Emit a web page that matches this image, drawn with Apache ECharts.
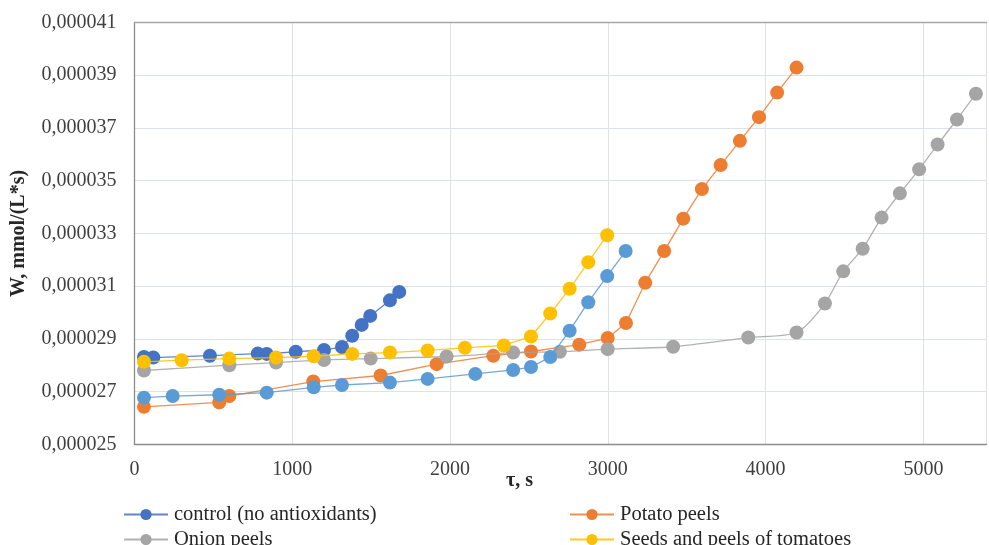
<!DOCTYPE html>
<html>
<head>
<meta charset="utf-8">
<script src="https://cdn.jsdelivr.net/npm/echarts@6/dist/echarts.min.js"></script>
<style>html,body{margin:0;padding:0;background:#fff;}#c{width:989px;height:545px;}</style>
</head>
<body>
<div id="c"></div>
<script>
// tau, s
var controlX = [60,119,478,781,838,1022,1201,1315,1380,1440,1494,1619,1678];
// W, values in units of 1e-6 mmol/(L*s)
var controlW = [28.31,28.29,28.36,28.44,28.43,28.51,28.58,28.69,29.12,29.53,29.87,30.46,30.78];

var potatoX = [60,537,601,1133,1560,1915,2274,2513,2819,2999,3115,3237,3357,3478,3596,3715,3837,3958,4073,4196];
var potatoW = [26.42,26.59,26.83,27.38,27.61,28.04,28.36,28.52,28.78,29.03,29.60,31.13,32.33,33.56,34.68,35.59,36.51,37.41,38.34,39.29];

var onionX = [60,601,897,1201,1497,1978,2400,2696,2999,3414,3890,4196,4376,4492,4615,4735,4851,4973,5090,5213,5333];
var onionW = [27.80,28.00,28.10,28.20,28.25,28.33,28.48,28.51,28.61,28.70,29.05,29.24,30.34,31.56,32.42,33.60,34.52,35.43,36.37,37.32,38.30];

var tomatoX = [60,299,601,897,1136,1380,1619,1858,2094,2341,2513,2635,2758,2876,2996];
var tomatoW = [28.13,28.19,28.25,28.29,28.34,28.43,28.48,28.56,28.66,28.75,29.09,29.96,30.90,31.91,32.93];

var fifthX = [60,242,537,838,1136,1315,1619,1858,2160,2400,2513,2635,2758,2876,2996,3113];
var fifthW = [26.77,26.83,26.88,26.96,27.16,27.25,27.34,27.48,27.67,27.82,27.93,28.31,29.31,30.39,31.38,32.33];

var seriesNames = ['control (no antioxidants)','Potato peels','Onion peels','Seeds and peels of tomatoes',''];
var yTickMin = 25, yTickMax = 41, yTickStep = 2;
var xTickMin = 0, xTickMax = 5400, xTickStep = 1000;

function pairs(xs, ys){ return xs.map(function(x,i){ return [x, ys[i]]; }); }

var colors = ['#4472C4','#ED7D31','#A5A5A5','#FFC000','#5B9BD5'];
var dataSets = [pairs(controlX,controlW), pairs(potatoX,potatoW), pairs(onionX,onionW), pairs(tomatoX,tomatoW), pairs(fifthX,fifthW)];

var serif = '"Liberation Serif", "DejaVu Serif", serif';

var series = dataSets.map(function(d, i){
  return {
    name: seriesNames[i] || 'series5',
    type: 'line',
    data: d,
    smooth: i === 2 ? 0.25 : false,
    symbol: 'circle',
    symbolSize: 14,
    color: colors[i],
    lineStyle: {width: 1.3, color: colors[i], opacity: 0.85},
    itemStyle: {color: colors[i]},
    z: 2 + i
  };
});

function leg(name, left, top){
  return {
    data: [name], orient: 'horizontal', left: left, top: top,
    itemWidth: 44, itemHeight: 14, itemGap: 0, padding: 0,
    textStyle: {fontFamily: serif, fontSize: 20.5, color: '#262626', padding: [0,0,0,1]},
    selectedMode: false
  };
}

var chart = echarts.init(document.getElementById('c'), null, {renderer: 'canvas'});
chart.setOption({
  animation: false,
  backgroundColor: '#ffffff',
  grid: {left: 134.5, right: 2.5, top: 22.5, bottom: 100.7, containLabel: false},
  xAxis: [{
    type: 'value', min: xTickMin, max: xTickMax, interval: xTickStep,
    axisLine: {show: true, lineStyle: {color: '#8C8C8C', width: 1.3}},
    axisTick: {show: false},
    splitLine: {show: true, lineStyle: {color: '#DDE1E8', width: 1}},
    axisLabel: {
      fontFamily: serif, fontSize: 20, color: '#404040', margin: 15,
      showMaxLabel: false,
      formatter: function(v){ return (v % 1000 === 0) ? String(v) : ''; }
    }
  }, {
    type: 'value', position: 'top', min: xTickMin, max: xTickMax, interval: xTickStep,
    axisLine: {show: true, lineStyle: {color: '#A6A6A6', width: 1.3}},
    axisTick: {show: false}, axisLabel: {show: false}, splitLine: {show: false}
  }],
  yAxis: {
    type: 'value', min: yTickMin, max: yTickMax, interval: yTickStep,
    name: 'W, mmol/(L*s)', nameLocation: 'middle', nameGap: 106,
    nameTextStyle: {fontFamily: serif, fontSize: 20, fontWeight: 'bold', color: '#262626'},
    axisLine: {show: true, lineStyle: {color: '#8C8C8C', width: 1.3}},
    axisTick: {show: false},
    splitLine: {show: true, lineStyle: {color: '#DDE1E8', width: 1}},
    axisLabel: {
      fontFamily: serif, fontSize: 20, color: '#404040', margin: 18,
      formatter: function(v){ return '0,0000' + String(Math.round(v)); }
    }
  },
  legend: [
    leg(seriesNames[0], 123, 504),
    leg(seriesNames[2], 123, 529),
    leg(seriesNames[1], 569, 504),
    leg(seriesNames[3], 569, 529)
  ],
  graphic: [{
    type: 'text', left: 506, top: 471,
    style: {text: 'τ, s', font: 'bold 20px ' + serif, fill: '#262626'}
  }],
  series: series
});
</script>
</body>
</html>
